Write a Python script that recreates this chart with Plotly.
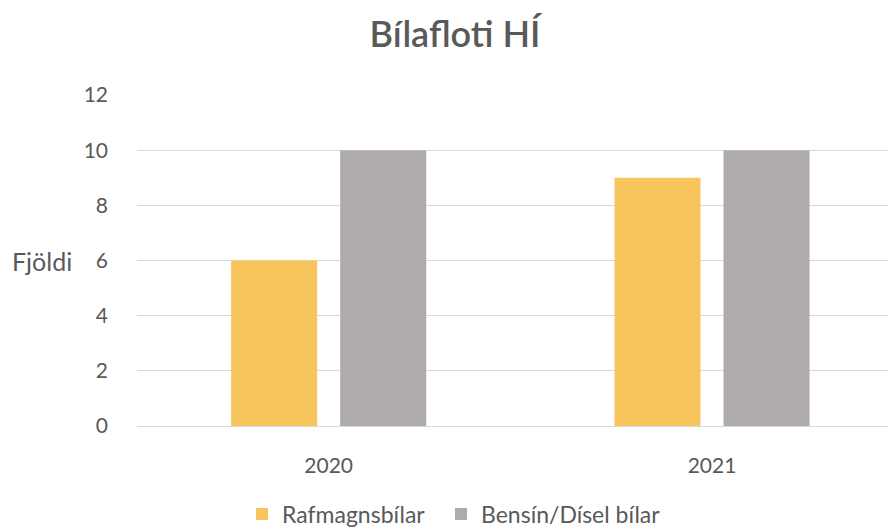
import plotly.graph_objects as go

years = ["2020", "2021"]
rafmagn = [6, 9]
bensin = [10, 10]
series_names = ["Rafmagnsbílar", "Bensín/Dísel bílar"]
yticks = [0, 2, 4, 6, 8, 10, 12]

FONT = "Lato"
TXT = "#595959"

# page body has an 8px margin; figure is sized/offset to compensate
W, H = 888, 521

fig = go.Figure()
fig.add_trace(go.Bar(x=years, y=rafmagn, name=series_names[0], legend="legend",
                     marker=dict(color="#F8C55C", line=dict(width=0))))
fig.add_trace(go.Bar(x=years, y=bensin, name=series_names[1], legend="legend2",
                     marker=dict(color="#AFABAB", line=dict(width=0))))

leg_common = dict(orientation="h", xref="container", yref="container",
                  xanchor="left", y=(H - 506) / H, yanchor="middle",
                  font=dict(size=23, color=TXT, family=FONT), itemwidth=30)

fig.update_layout(
    width=W, height=H,
    margin=dict(l=129, r=0, t=87, b=H - 418),
    paper_bgcolor="white", plot_bgcolor="white",
    font=dict(family=FONT, color=TXT, size=20),
    title=dict(text="Bílafloti HÍ", x=(455 - 8) / W, xref="container", xanchor="center",
               y=1 - 26 / H, yref="container", yanchor="middle",
               font=dict(size=36, color=TXT, family=FONT, weight=600)),
    barmode="group", bargap=0.431, bargroupgap=0.211,
    showlegend=True,
    legend=dict(x=(242 - 8) / W, **leg_common),
    legend2=dict(x=(441 - 8) / W, **leg_common),
    xaxis=dict(range=[-0.5, 1.48], showgrid=False, showline=False,
               ticks="", ticklabelstandoff=25, tickfont=dict(size=21, color=TXT)),
    yaxis=dict(range=[0, 12], tickvals=yticks, showgrid=True, gridcolor="#D9D9D9",
               gridwidth=1.3, zeroline=True, zerolinecolor="#D9D9D9", zerolinewidth=1.3,
               showline=False, ticks="", ticklabelstandoff=28,
               tickfont=dict(size=21, color=TXT)),
    annotations=[dict(text="Fjöldi", xref="paper", yref="paper", x=(2 - 129) / 759,
                      xanchor="left", y=6 / 12, yanchor="middle", showarrow=False,
                      font=dict(size=25, color=TXT, family=FONT))],
)

fig.write_html("out.html")
